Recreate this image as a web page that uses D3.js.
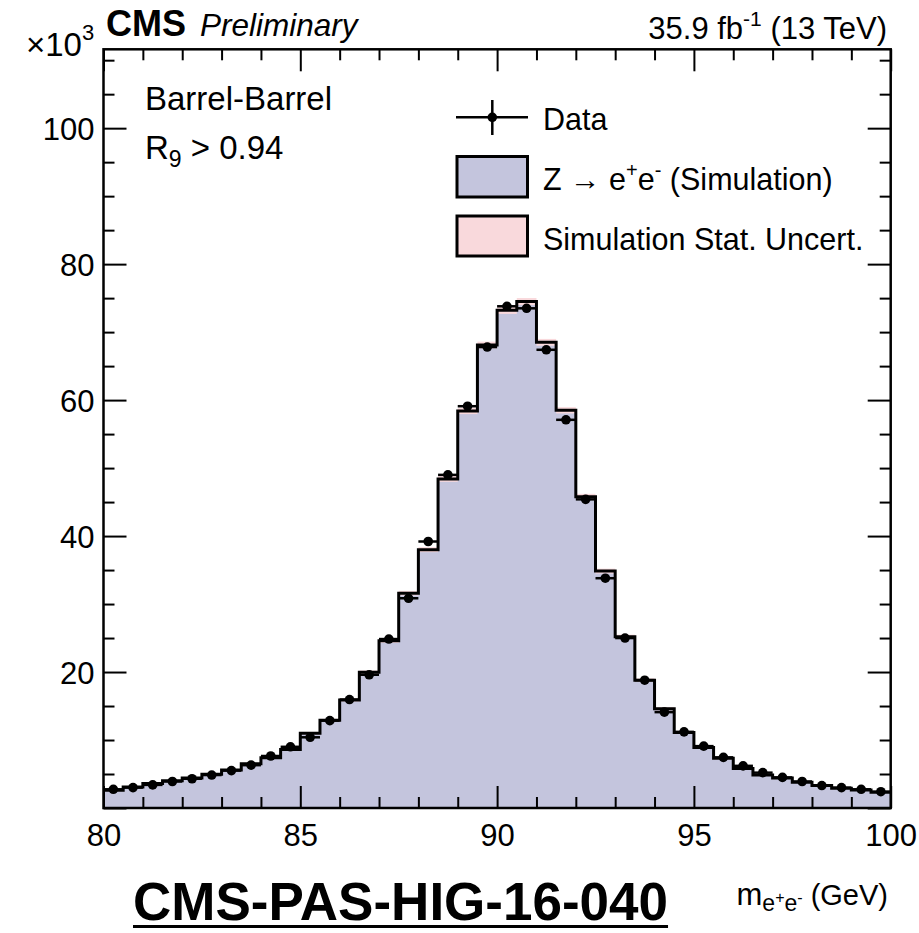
<!DOCTYPE html>
<html>
<head>
<meta charset="utf-8">
<script src="https://cdn.jsdelivr.net/npm/d3@7"></script>
<style>
  html, body { margin: 0; padding: 0; background: #fff; }
  svg text { font-family: "Liberation Sans", Arial, Helvetica, sans-serif; fill: #000; }
</style>
</head>
<body>
<svg id="chart" width="919" height="933"></svg>
<script>
// ---------- data (values in units of 10^3 events per 0.5 GeV) ----------
const binLow = [80.0, 80.5, 81.0, 81.5, 82.0, 82.5, 83.0, 83.5, 84.0, 84.5,
                85.0, 85.5, 86.0, 86.5, 87.0, 87.5, 88.0, 88.5, 89.0, 89.5,
                90.0, 90.5, 91.0, 91.5, 92.0, 92.5, 93.0, 93.5, 94.0, 94.5,
                95.0, 95.5, 96.0, 96.5, 97.0, 97.5, 98.0, 98.5, 99.0, 99.5];
const binWidth = 0.5;
const mcValues = [2.6, 3.1, 3.6, 4.0, 4.4, 4.95, 5.6, 6.5, 7.4, 8.6,
                  11.0, 12.9, 15.9, 19.95, 24.6, 31.6, 38.0, 48.4, 58.4, 68.1,
                  73.2, 74.5, 68.5, 58.5, 45.8, 34.85, 25.2, 18.8, 14.6, 11.1,
                  8.9, 7.3, 5.8, 4.85, 4.4, 3.8, 3.3, 2.9, 2.65, 2.3];
const mcStatUnc = [0.1, 0.1, 0.1, 0.1, 0.12, 0.12, 0.13, 0.14, 0.15, 0.17,
                   0.19, 0.21, 0.24, 0.27, 0.3, 0.34, 0.37, 0.42, 0.46, 0.5,
                   0.52, 0.52, 0.5, 0.46, 0.41, 0.36, 0.3, 0.26, 0.23, 0.2,
                   0.18, 0.16, 0.14, 0.13, 0.12, 0.12, 0.11, 0.1, 0.1, 0.1];
const dataValues = [2.75, 3.0, 3.4, 3.9, 4.3, 4.85, 5.5, 6.3, 7.65, 9.0,
                    10.4, 12.85, 15.95, 19.6, 24.85, 30.85, 39.2, 49.0, 59.1, 67.8,
                    73.8, 73.5, 67.4, 57.1, 45.4, 33.8, 25.0, 18.8, 14.1, 11.2,
                    9.1, 7.45, 6.2, 5.2, 4.5, 3.9, 3.3, 3.0, 2.75, 2.4];
const xMajorTicks = [80, 85, 90, 95, 100];
const xMinorTicks = [81, 82, 83, 84, 86, 87, 88, 89, 91, 92, 93, 94, 96, 97, 98, 99];
const yMajorTicks = [0, 20, 40, 60, 80, 100];
const yTickLabels = ["", "20", "40", "60", "80", "100"];
const yMinorTicks = [5, 10, 15, 25, 30, 35, 45, 50, 55, 65, 70, 75, 85, 90, 95, 105, 110];
const xDomain = [80, 100];
const yDomain = [0, 111.6];

// ---------- layout ----------
const L = 103.5, R = 890.7, T = 49.3, B = 808;
const colMC = "#c4c5dd", colUnc = "#f9d9dc";

const svg = d3.select("#chart");
const x = d3.scaleLinear().domain(xDomain).range([L, R]);
const y = d3.scaleLinear().domain(yDomain).range([B, T]);

const bins = binLow.map((lo, i) => ({
  lo, hi: lo + binWidth, c: lo + binWidth / 2,
  mc: mcValues[i], unc: mcStatUnc[i], data: dataValues[i]
}));

const plot = svg.append("g");

// MC filled histogram
const stepPts = bins.map(b => [b.lo, b.mc]).concat([[xDomain[1], bins[bins.length - 1].mc]]);
plot.append("path")
  .attr("d", d3.area().curve(d3.curveStepAfter)
    .x(d => x(d[0])).y0(y(0)).y1(d => y(d[1]))(stepPts))
  .attr("fill", colMC);

// stat. uncertainty band
plot.selectAll("rect.unc").data(bins).join("rect")
  .attr("class", "unc")
  .attr("x", d => x(d.lo)).attr("width", d => x(d.hi) - x(d.lo))
  .attr("y", d => y(d.mc + d.unc)).attr("height", d => y(d.mc - d.unc) - y(d.mc + d.unc))
  .attr("fill", colUnc);

// MC outline
plot.append("path")
  .attr("d", d3.line().curve(d3.curveStepAfter).x(d => x(d[0])).y(d => y(d[1]))(stepPts))
  .attr("fill", "none").attr("stroke", "#000").attr("stroke-width", 3);

// data points
const dg = plot.append("g");
dg.selectAll("line.xerr").data(bins).join("line")
  .attr("x1", d => x(d.lo)).attr("x2", d => x(d.hi))
  .attr("y1", d => y(d.data)).attr("y2", d => y(d.data))
  .attr("stroke", "#000").attr("stroke-width", 2.5);
dg.selectAll("circle").data(bins).join("circle")
  .attr("cx", d => x(d.c)).attr("cy", d => y(d.data)).attr("r", 4.8)
  .attr("fill", "#000");

// ---------- axes ----------
function clean(g) { g.select(".domain").remove(); g.selectAll("line").attr("stroke", "#000").attr("stroke-width", 2); }
const fontTick = 31;
// bottom
svg.append("g").attr("transform", `translate(0,${B})`)
  .call(d3.axisBottom(x).tickValues(xMajorTicks).tickSize(-22).tickPadding(38).tickFormat(d3.format("d")))
  .call(clean)
  .call(g => g.selectAll("text").attr("font-size", fontTick).attr("dy", 0).attr("font-family", "Liberation Sans, Arial, sans-serif"));
svg.append("g").attr("transform", `translate(0,${B})`)
  .call(d3.axisBottom(x).tickValues(xMinorTicks).tickSize(-11).tickFormat(""))
  .call(clean);
// top
svg.append("g").attr("transform", `translate(0,${T})`)
  .call(d3.axisTop(x).tickValues(xMajorTicks).tickSize(-22).tickFormat(""))
  .call(clean);
svg.append("g").attr("transform", `translate(0,${T})`)
  .call(d3.axisTop(x).tickValues(xMinorTicks).tickSize(-11).tickFormat(""))
  .call(clean);
// left
svg.append("g").attr("transform", `translate(${L},0)`)
  .call(d3.axisLeft(y).tickValues(yMajorTicks).tickSize(-23).tickPadding(9)
    .tickFormat((d, i) => yTickLabels[i]))
  .call(clean)
  .call(g => g.selectAll("text").attr("font-size", fontTick).attr("dy", "0.36em").attr("font-family", "Liberation Sans, Arial, sans-serif"));
svg.append("g").attr("transform", `translate(${L},0)`)
  .call(d3.axisLeft(y).tickValues(yMinorTicks).tickSize(-11).tickFormat(""))
  .call(clean);
// right
svg.append("g").attr("transform", `translate(${R},0)`)
  .call(d3.axisRight(y).tickValues(yMajorTicks).tickSize(-23).tickFormat(""))
  .call(clean);
svg.append("g").attr("transform", `translate(${R},0)`)
  .call(d3.axisRight(y).tickValues(yMinorTicks).tickSize(-11).tickFormat(""))
  .call(clean);

// frame
svg.append("rect").attr("x", L).attr("y", T).attr("width", R - L).attr("height", B - T)
  .attr("fill", "none").attr("stroke", "#000").attr("stroke-width", 2.5);

// ---------- texts ----------
// x10^3
const exp = svg.append("text").attr("x", 26).attr("y", 56).attr("font-size", 33);
exp.append("tspan").text("×10");
exp.append("tspan").attr("font-size", 22).attr("dy", -16).text("3");

svg.append("text").attr("x", 106).attr("y", 36).attr("font-size", 36).attr("font-weight", "bold").text("CMS");
svg.append("text").attr("x", 200).attr("y", 36).attr("font-size", 31.5).attr("font-style", "italic").text("Preliminary");

const lumi = svg.append("text").attr("x", 887).attr("y", 39).attr("font-size", 31).attr("text-anchor", "end");
lumi.append("tspan").text("35.9 fb");
lumi.append("tspan").attr("font-size", 21).attr("dy", -13).text("-1");
lumi.append("tspan").attr("dy", 13).text(" (13 TeV)");

svg.append("text").attr("x", 145).attr("y", 110).attr("font-size", 33).text("Barrel-Barrel");
const r9 = svg.append("text").attr("x", 145).attr("y", 159).attr("font-size", 33);
r9.append("tspan").text("R");
r9.append("tspan").attr("font-size", 23).attr("dy", 8).text("9");
r9.append("tspan").attr("dy", -8).text(" > 0.94");

// legend
const lg = svg.append("g");
lg.append("line").attr("x1", 456).attr("x2", 528).attr("y1", 117.3).attr("y2", 117.3).attr("stroke", "#000").attr("stroke-width", 2.5);
lg.append("line").attr("x1", 492.3).attr("x2", 492.3).attr("y1", 100).attr("y2", 135).attr("stroke", "#000").attr("stroke-width", 2.5);
lg.append("circle").attr("cx", 492.3).attr("cy", 117.3).attr("r", 4.8).attr("fill", "#000");
lg.append("rect").attr("x", 457).attr("y", 156.5).attr("width", 70.5).attr("height", 40.5).attr("fill", colMC).attr("stroke", "#000").attr("stroke-width", 3);
lg.append("rect").attr("x", 457).attr("y", 216).attr("width", 70.5).attr("height", 40).attr("fill", colUnc).attr("stroke", "#000").attr("stroke-width", 3);
lg.append("text").attr("x", 543).attr("y", 130).attr("font-size", 30.5).text("Data");
const zt = lg.append("text").attr("x", 543).attr("y", 189.5).attr("font-size", 30.5);
zt.append("tspan").text("Z \u2192 e");
zt.append("tspan").attr("font-size", 20).attr("dy", -13).text("+");
zt.append("tspan").attr("dy", 13).text("e");
zt.append("tspan").attr("font-size", 20).attr("dy", -13).text("-");
zt.append("tspan").attr("dy", 13).text(" (Simulation)");
lg.append("text").attr("x", 543).attr("y", 249.5).attr("font-size", 30.5).text("Simulation Stat. Uncert.");

// x-axis title
const xt = svg.append("text").attr("x", 888).attr("y", 905).attr("font-size", 29).attr("text-anchor", "end");
xt.append("tspan").attr("font-size", 31).text("m");
xt.append("tspan").attr("font-size", 23).attr("dy", 6).text("e");
xt.append("tspan").attr("font-size", 16).attr("dy", -8).text("+");
xt.append("tspan").attr("font-size", 23).attr("dy", 8).text("e");
xt.append("tspan").attr("font-size", 16).attr("dy", -8).text("-");
xt.append("tspan").attr("dy", 2).text(" (GeV)");

// PAS label
const pas = svg.append("text").attr("x", 133).attr("y", 920).attr("font-size", 53).attr("font-weight", "bold").text("CMS-PAS-HIG-16-040");
const pw = pas.node().getComputedTextLength();
svg.append("rect").attr("x", 133).attr("y", 925).attr("width", pw).attr("height", 3).attr("fill", "#000");
</script>
</body>
</html>
